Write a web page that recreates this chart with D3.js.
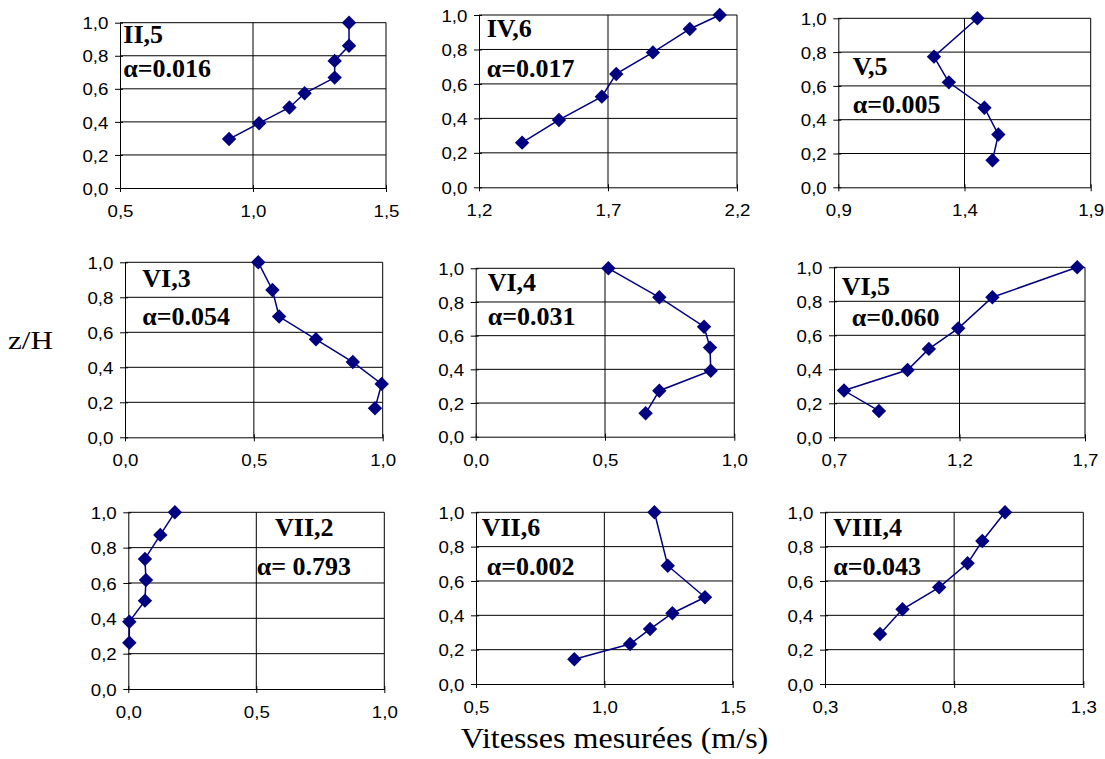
<!DOCTYPE html>
<html>
<head>
<meta charset="utf-8">
<script src="https://cdn.jsdelivr.net/npm/d3@7"></script>
<style>
  html, body { margin: 0; padding: 0; background: #fff; }
  svg { display: block; }
  .tick text { font-family: "Liberation Sans", Arial, sans-serif; font-size: 17px; fill: #000; }
  .lbl { font-family: "Liberation Serif", "Times New Roman", serif; font-weight: bold; font-size: 26px; fill: #000; }
  .title { font-family: "Liberation Serif", "Times New Roman", serif; fill: #000; }
</style>
</head>
<body>
<svg id="chart" width="1105" height="759"></svg>
<script>
// ---------------- DATA ----------------
const panelNames = ["II,5", "IV,6", "V,5", "VI,3", "VI,4", "VI,5", "VII,2", "VII,6", "VIII,4"];
const alphaLabels = ["α=0.016", "α=0.017", "α=0.005", "α=0.054", "α=0.031", "α=0.060", "α= 0.793", "α=0.002", "α=0.043"];
const xDomains = [[0.5, 1.5], [1.2, 2.2], [0.9, 1.9], [0.0, 1.0], [0.0, 1.0], [0.7, 1.7], [0.0, 1.0], [0.5, 1.5], [0.3, 1.3]];
const xTickLabels = [
  ["0,5", "1,0", "1,5"], ["1,2", "1,7", "2,2"], ["0,9", "1,4", "1,9"],
  ["0,0", "0,5", "1,0"], ["0,0", "0,5", "1,0"], ["0,7", "1,2", "1,7"],
  ["0,0", "0,5", "1,0"], ["0,5", "1,0", "1,5"], ["0,3", "0,8", "1,3"]
];
const yTickValues = [0, 0.2, 0.4, 0.6, 0.8, 1.0];
const yTickLabels = ["0,0", "0,2", "0,4", "0,6", "0,8", "1,0"];

// measured velocities (m/s) and relative depths z/H, one array per profile
const speedII5   = [0.910, 1.023, 1.137, 1.194, 1.307, 1.307, 1.361, 1.361];
const depthII5   = [0.296, 0.392, 0.487, 0.573, 0.668, 0.769, 0.861, 1.000];
const speedIV6   = [1.367, 1.510, 1.676, 1.732, 1.874, 2.017, 2.133];
const depthIV6   = [0.259, 0.391, 0.526, 0.658, 0.783, 0.919, 1.000];
const speedV5    = [1.451, 1.279, 1.338, 1.479, 1.534, 1.511];
const depthV5    = [1.000, 0.773, 0.621, 0.471, 0.312, 0.160];
const speedVI3   = [0.517, 0.572, 0.598, 0.741, 0.884, 0.996, 0.970];
const depthVI3   = [1.000, 0.842, 0.690, 0.560, 0.430, 0.305, 0.166];
const speedVI4   = [0.513, 0.710, 0.883, 0.906, 0.909, 0.710, 0.657];
const depthVI4   = [1.000, 0.828, 0.653, 0.529, 0.392, 0.273, 0.139];
const speedVI5   = [1.669, 1.331, 1.195, 1.078, 0.993, 0.740, 0.879];
const depthVI5   = [1.000, 0.824, 0.641, 0.520, 0.396, 0.275, 0.155];
const speedVII2  = [0.182, 0.125, 0.065, 0.069, 0.065, 0.004, 0.004];
const depthVII2  = [1.000, 0.872, 0.736, 0.617, 0.500, 0.381, 0.262];
const speedVII6  = [1.195, 1.247, 1.392, 1.265, 1.178, 1.100, 0.883];
const depthVII6  = [1.000, 0.689, 0.505, 0.412, 0.320, 0.233, 0.144];
const speedVIII4 = [0.997, 0.909, 0.852, 0.742, 0.600, 0.513];
const depthVIII4 = [1.000, 0.833, 0.703, 0.563, 0.435, 0.291];

const speeds = [speedII5, speedIV6, speedV5, speedVI3, speedVI4, speedVI5, speedVII2, speedVII6, speedVIII4];
const depths = [depthII5, depthIV6, depthV5, depthVI3, depthVI4, depthVI5, depthVII2, depthVII6, depthVIII4];

const yTitle = "z/H";
const xTitle = "Vitesses mesurées (m/s)";

// ---------------- LAYOUT ----------------
// plot frames: [left, right, top, bottom]
const frames = [
  [120, 386, 22.7, 188], [479, 737, 15, 187.3], [838.3, 1090.7, 18.3, 187.3],
  [125, 382.7, 262.3, 437.3], [475.7, 734.3, 268.3, 436.7], [834, 1085, 267.3, 437.3],
  [128.3, 384.3, 512.3, 689], [476, 732.7, 512.3, 684], [825, 1083.3, 512.3, 684]
];
// label positions: [nameX, nameY, alphaX, alphaY]
const labelPos = [
  [123.3, 43.3, 123.3, 76.7], [486.7, 37.3, 486.7, 76.7], [852.7, 75, 852.7, 113.3],
  [142.3, 287.3, 142.3, 325], [487.7, 290.7, 487.7, 325], [841.7, 295, 851.7, 326],
  [275, 535.7, 256.7, 575], [481.7, 535.7, 486.7, 575], [833.3, 535.7, 833.3, 575]
];
const navy = "#000080";
const textStretch = 1.1;

const svg = d3.select("#chart");

frames.forEach((f, i) => {
  const [l, r, t, b] = f;
  const x = d3.scaleLinear().domain(xDomains[i]).range([l, r]);
  const y = d3.scaleLinear().domain([0, 1]).range([b, t]);
  const g = svg.append("g");
  const xd = xDomains[i];
  const xTicks = [xd[0], (xd[0] + xd[1]) / 2, xd[1]];

  // horizontal grid lines
  g.append("g").selectAll("line").data(yTickValues.slice(1)).join("line")
    .attr("x1", l).attr("x2", r)
    .attr("y1", d => y(d)).attr("y2", d => y(d))
    .attr("stroke", "#000").attr("stroke-width", 1);
  // vertical grid lines (middle + right border)
  g.append("g").selectAll("line").data(xTicks.slice(1)).join("line")
    .attr("x1", d => x(d)).attr("x2", d => x(d))
    .attr("y1", t).attr("y2", b)
    .attr("stroke", "#000").attr("stroke-width", 1);

  // y axis
  const ya = g.append("g").attr("transform", `translate(${l},0)`)
    .call(d3.axisLeft(y).tickValues(yTickValues)
      .tickFormat((d, k) => yTickLabels[k]).tickSizeInner(5).tickSizeOuter(0).tickPadding(6));
  ya.select(".domain").attr("stroke", "#000");
  ya.selectAll(".tick line").attr("x1", 3).attr("stroke", "#000");
  ya.selectAll(".tick text").attr("x", -10.5).attr("dy", "0.36em")
    .attr("transform", `scale(${textStretch},1)`);

  // x axis
  const xa = g.append("g").attr("transform", `translate(0,${b})`)
    .call(d3.axisBottom(x).tickValues(xTicks)
      .tickFormat((d, k) => xTickLabels[i][k]).tickSizeInner(4).tickSizeOuter(0));
  xa.select(".domain").attr("stroke", "#000");
  xa.selectAll(".tick line").attr("y1", -3).attr("stroke", "#000");
  xa.selectAll(".tick text").attr("y", 17).attr("dy", "0.71em")
    .attr("transform", `scale(${textStretch},1)`);

  // profile line
  const pts = speeds[i].map((v, k) => [v, depths[i][k]]);
  g.append("path").datum(pts)
    .attr("fill", "none").attr("stroke", navy).attr("stroke-width", 1.5)
    .attr("d", d3.line().x(d => x(d[0])).y(d => y(d[1])));
  // diamond markers
  g.append("g").selectAll("path").data(pts).join("path")
    .attr("transform", d => `translate(${x(d[0])},${y(d[1])})`)
    .attr("d", "M0,-7.2L7.2,0L0,7.2L-7.2,0Z")
    .attr("fill", navy);

  // labels
  const lp = labelPos[i];
  g.append("text").attr("class", "lbl").attr("x", lp[0]).attr("y", lp[1]).text(panelNames[i]);
  g.append("text").attr("class", "lbl").attr("x", lp[2]).attr("y", lp[3]).text(alphaLabels[i]);
});

// axis titles
svg.append("text").attr("class", "title")
  .attr("x", 8).attr("y", 349)
  .attr("textLength", 45).attr("lengthAdjust", "spacingAndGlyphs")
  .style("font-size", "26px").text(yTitle);
svg.append("text").attr("class", "title")
  .attr("x", 460.7).attr("y", 748)
  .attr("textLength", 307.6).attr("lengthAdjust", "spacingAndGlyphs")
  .style("font-size", "29px").text(xTitle);
</script>
</body>
</html>
